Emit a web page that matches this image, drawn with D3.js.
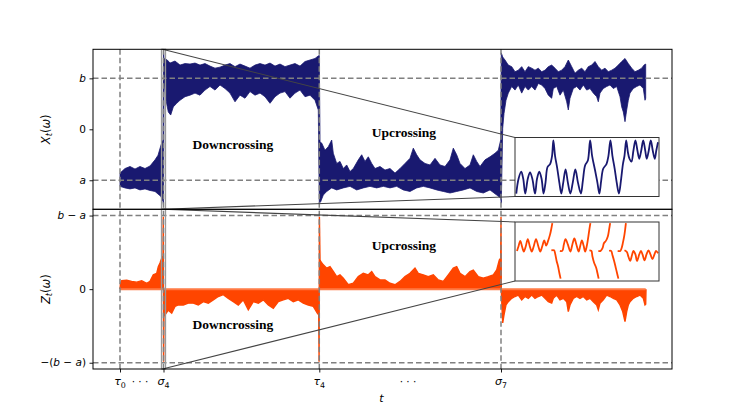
<!DOCTYPE html>
<html><head><meta charset="utf-8">
<script src="https://cdn.jsdelivr.net/npm/d3@7"></script>
<style>body{margin:0;background:#fff}</style>
</head><body>
<svg id="c" width="747" height="415" xmlns="http://www.w3.org/2000/svg"></svg>
<script>
// ---------------- data ----------------
const levelA = -1, levelB = 1;
const stopTimes = [0, 43.5, 199.3, 381];
const stopLabels = [[["τ","i"],["0","sub"]],[["σ","i"],["4","sub"]],[["τ","i"],["4","sub"]],[["σ","i"],["7","sub"]]];
const ellipsisTimes = [20, 288];
const tMax = 525.7;
const zoomWindow = [41.5, 45.5];

const topTickValues = [levelA, 0, levelB];
const topTickLabels = [[["a","i"]], [["0",""]], [["b","i"]]];
const botTickValues = [-(levelB - levelA), 0, levelB - levelA];
const botTickLabels = [[["−(",""],["b","i"],[" − ",""],["a","i"],[")",""]], [["0",""]], [["b","i"],[" − ",""],["a","i"]]];

// upper / lower envelope of the rapidly oscillating X_t
const xUpper = [[0,-0.86],[5,-0.77],[10,-0.73],[15,-0.78],[20,-0.73],[25,-0.77],[30,-0.72],[35,-0.60],[38,-0.51],[41,-0.31],[43,-0.21],
 [43.5,1.55],[44,1.39],[47.3,1.36],[50,1.30],[55,1.34],[60,1.26],[65,1.29],[70,1.28],[75,1.30],[80,1.26],[85,1.29],[90,1.24],[95,1.20],[100,1.22],
 [105,1.26],[110,1.29],[115,1.23],[120,1.28],[125,1.24],[130,1.20],[135,1.26],[140,1.29],[145,1.26],[150,1.30],[155,1.24],[160,1.28],[165,1.23],
 [170,1.26],[175,1.29],[180,1.24],[185,1.33],[190,1.36],[195,1.39],[198.3,1.44],[199.3,1.45],
 [200,-0.25],[201.7,-0.27],[205,-0.41],[208.3,-0.34],[211.7,-0.21],[213.3,-0.47],[216.7,-0.67],[220,-0.63],[223.3,-0.77],[226.7,-0.70],[230,-0.83],
 [233.3,-0.77],[238.3,-0.60],[241.7,-0.50],[245,-0.63],[248.3,-0.54],[251.7,-0.67],[255,-0.77],[260,-0.73],[265,-0.80],[270,-0.77],[275,-0.86],
 [280,-0.77],[285,-0.67],[290,-0.57],[293.3,-0.37],[296.7,-0.50],[300,-0.60],[305,-0.67],[310,-0.70],[315,-0.57],[320,-0.70],[325,-0.73],[330,-0.60],
 [333.3,-0.37],[336.7,-0.50],[340,-0.67],[345,-0.77],[350,-0.70],[353.3,-0.50],[356.7,-0.63],[360,-0.73],[365,-0.60],[370,-0.54],[375,-0.47],
 [378.3,-0.41],[380.7,-0.21],
 [381.3,1.50],[382.7,1.42],[385,1.36],[388.3,1.26],[391.7,1.23],[395,1.13],[398.3,1.16],[401.7,1.23],[405,1.13],[408.3,1.23],[411.7,1.20],[415,1.16],
 [418.3,1.20],[421.7,1.13],[425,1.16],[428.3,1.23],[431.7,1.26],[435,1.20],[438.3,1.13],[441.7,1.16],[445,1.23],[448.3,1.36],[451.7,1.23],[455,1.10],
 [458.3,1.16],[461.7,1.20],[465,1.13],[468.3,1.23],[471.7,1.26],[475,1.33],[478.3,1.23],[481.7,1.16],[485,1.20],[488.3,1.13],[491.7,1.16],[495,1.20],
 [498.3,1.26],[501.7,1.33],[505,1.39],[508.3,1.29],[511.7,1.20],[515,1.13],[518.3,1.16],[521.7,1.20],[524,1.26],[525.7,1.28]];
const xLower = [[0,-1.12],[5,-1.15],[10,-1.17],[15,-1.15],[20,-1.19],[25,-1.17],[30,-1.20],[35,-1.22],[38,-1.27],[41,-1.32],[43,-1.42],[43.5,-1.50],
 [44,0.97],[46,0.57],[48.3,0.34],[50.7,0.28],[53.3,0.44],[56.7,0.51],[60,0.57],[65,0.64],[70,0.67],[75,0.71],[80,0.67],[85,0.77],[90,0.84],[95,0.77],
 [100,0.87],[105,0.80],[110,0.71],[115,0.54],[120,0.67],[125,0.61],[130,0.74],[135,0.67],[140,0.71],[145,0.64],[150,0.51],[155,0.64],[160,0.71],
 [165,0.74],[170,0.61],[175,0.71],[180,0.77],[185,0.64],[190,0.67],[195,0.57],[198.3,0.38],
 [199.3,-1.45],[200.7,-1.42],[203.3,-1.29],[206.7,-1.22],[211.7,-1.15],[216.7,-1.19],[223.3,-1.15],[230,-1.12],[236.7,-1.19],[243.3,-1.15],[250,-1.12],
 [256.7,-1.15],[263.3,-1.12],[270,-1.15],[276.7,-1.12],[283.3,-1.19],[290,-1.22],[296.7,-1.15],[303.3,-1.12],[310,-1.15],[316.7,-1.19],[323.3,-1.22],
 [330,-1.25],[336.7,-1.22],[343.3,-1.19],[350,-1.15],[356.7,-1.22],[363.3,-1.25],[370,-1.19],[376.7,-1.29],[380.7,-1.35],[381.3,-1.45],
 [382.7,0.02],[384,0.31],[386,0.57],[388.3,0.71],[391.7,0.84],[395,0.77],[398.3,0.87],[401.7,0.71],[405,0.84],[408.3,0.77],[411.7,0.84],[415,0.77],
 [418.3,0.90],[421.7,0.87],[425,0.80],[428.3,0.67],[431.7,0.61],[433.3,0.80],[436.7,0.84],[440,0.67],[443.3,0.77],[446.7,0.54],[448.3,0.38],[450,0.61],
 [453.3,0.80],[456.7,0.84],[460,0.77],[463.3,0.87],[466.7,0.77],[470,0.80],[473.3,0.71],[476.7,0.64],[478.3,0.54],[480,0.71],[483.3,0.80],[486.7,0.84],
 [490,0.87],[493.3,0.80],[496.7,0.84],[500,0.64],[501.7,0.44],[503.3,0.34],[505,0.15],[506.7,0.38],[508.3,0.57],[510,0.71],[513.3,0.80],[516.7,0.84],
 [520,0.87],[523.3,0.80],[525,0.57],[525.7,0.61]];

// Z_t
const zSeries = [[0,0],[0.5,0.15],[1.7,0.23],[6.7,0.24],[11.7,0.21],[16.7,0.19],[21.7,0.23],[26.7,0.16],[30,0.21],[33.3,0.39],[36.7,0.43],[38.3,0.61],
 [40,0.71],[41.7,0.84],[43,0.90],[43.3,1.97],[43.6,-1.97],[44,-0.50],[45,-0.70],[48.3,-0.57],[51.7,-0.65],[55,-0.47],[58.3,-0.43],[63.3,-0.43],
 [68.3,-0.38],[73.3,-0.38],[78.3,-0.43],[83.3,-0.34],[88.3,-0.38],[93.3,-0.29],[98.3,-0.20],[103.3,-0.15],[108.3,-0.25],[113.3,-0.34],[118.3,-0.43],
 [123.3,-0.29],[128.3,-0.56],[133.3,-0.34],[138.3,-0.38],[143.3,-0.29],[148.3,-0.43],[153.3,-0.52],[158.3,-0.34],[163.3,-0.29],[168.3,-0.25],
 [173.3,-0.34],[178.3,-0.29],[183.3,-0.38],[188.3,-0.43],[193.3,-0.47],[197.3,-0.65],[198.7,-0.70],[199.1,-1.97],[199.4,1.97],[200,0.80],
 [200.7,0.75],[203.3,0.66],[206.7,0.57],[210,0.61],[213.3,0.48],[216.7,0.34],[220,0.39],[223.3,0.30],[228.3,0.12],[233.3,0.16],[238.3,0.34],
 [243.3,0.43],[248.3,0.39],[251.7,0.48],[255,0.34],[260,0.25],[265,0.25],[270,0.16],[275,0.12],[280,0.21],[285,0.34],[290,0.43],[295,0.57],
 [298.3,0.43],[303.3,0.39],[308.3,0.34],[313.3,0.39],[318.3,0.25],[323.3,0.21],[328.3,0.39],[333.3,0.57],[336.7,0.61],[340,0.43],[345,0.34],
 [350,0.48],[353.3,0.52],[358.3,0.34],[363.3,0.30],[368.3,0.34],[373.3,0.39],[376.7,0.52],[379.3,0.79],[380.7,0.84],[381,1.97],[381.3,0],
 [382,-0.50],[382.7,-0.92],[384,-0.70],[386,-0.43],[388.3,-0.34],[391.7,-0.25],[395,-0.20],[398.3,-0.16],[401.7,-0.29],[405,-0.20],[408.3,-0.25],
 [411.7,-0.16],[415,-0.25],[418.3,-0.20],[421.7,-0.16],[425,-0.25],[428.3,-0.34],[431.7,-0.38],[433.3,-0.25],[436.7,-0.16],[440,-0.29],[443.3,-0.25],
 [446.7,-0.34],[448.3,-0.61],[450,-0.43],[453.3,-0.25],[456.7,-0.20],[460,-0.25],[463.3,-0.20],[466.7,-0.29],[470,-0.25],[473.3,-0.34],[476.7,-0.43],
 [478.3,-0.56],[480,-0.38],[483.3,-0.29],[486.7,-0.16],[490,-0.20],[493.3,-0.25],[496.7,-0.29],[500,-0.43],[502.7,-0.61],[505,-0.88],[506.7,-0.61],
 [508.3,-0.43],[510,-0.34],[513.3,-0.25],[516.7,-0.20],[520,-0.16],[523.3,-0.25],[525,-0.43],[525.7,-0.41],[526,0]];

// zoomed views (inset time 0..100, inset value 0..1)
const zoomX = [[0.2,0.05],[1.8,0.30],[3.7,0.42],[5.1,0.30],[6.5,0.05],[8.3,0.30],[9.9,0.41],[11.5,0.30],[13.4,0.05],[14.8,0.30],[16.4,0.42],[18.0,0.30],
 [19.4,0.05],[20.8,0.24],[22.2,0.50],[24.0,0.55],[25.4,0.69],[26.3,0.95],[27.5,0.69],[29.1,0.47],[30.5,0.24],[31.9,0.05],[33.3,0.24],[34.9,0.46],
 [36.5,0.24],[38.3,0.05],[40.0,0.24],[41.8,0.46],[43.6,0.24],[45.7,0.05],[47.1,0.27],[48.7,0.53],[50.6,0.61],[52.2,0.95],[53.6,0.69],[55.7,0.44],
 [57.3,0.24],[58.7,0.05],[60.0,0.27],[61.4,0.47],[63.7,0.55],[65.1,0.69],[66.5,0.95],[67.9,0.69],[69.5,0.47],[70.9,0.24],[72.5,0.05],[73.9,0.27],
 [75.3,0.55],[76.4,0.69],[77.6,0.95],[78.8,0.75],[79.9,0.64],[81.3,0.59],[82.7,0.78],[84.1,0.95],[85.5,0.78],[86.8,0.64],[88.2,0.78],[89.6,0.95],
 [91.0,0.78],[92.1,0.64],[93.5,0.78],[94.9,0.95],[96.3,0.78],[97.7,0.64],[98.8,0.78],[100,0.92]];
const zoomZ = [
 [[0.7,0.51],[1.8,0.59],[3.0,0.68],[4.2,0.59],[5.5,0.50],[6.9,0.59],[8.3,0.71],[9.7,0.59],[11.1,0.50],[12.5,0.59],[14.1,0.71],[15.7,0.59],[17.1,0.50],
  [18.5,0.59],[19.9,0.69],[21.2,0.60],[22.6,0.68],[24.0,0.79],[24.9,0.89],[25.6,0.98]],
 [[24.9,0.52],[26.8,0.52],[27.7,0.45],[28.6,0.34],[29.6,0.25],[30.5,0.14],[31.4,0.04]],
 [[30.9,0.51],[32.6,0.51],[33.7,0.62],[34.9,0.71],[36.5,0.62],[38.3,0.50],[39.7,0.62],[41.1,0.72],[42.5,0.62],[44.1,0.50],[45.3,0.60],[46.4,0.69],
  [47.6,0.60],[48.7,0.50],[49.9,0.60],[51.0,0.76],[51.7,0.88],[52.4,0.98]],
 [[51.7,0.52],[53.1,0.51],[53.8,0.42],[55.0,0.31],[56.4,0.23],[57.3,0.14],[58.2,0.04]],
 [[58.0,0.51],[59.6,0.51],[61.0,0.56],[61.9,0.64],[63.3,0.68],[64.7,0.76],[65.6,0.88],[66.3,0.98]],
 [[65.6,0.51],[67.0,0.51],[67.9,0.44],[69.1,0.34],[70.2,0.23],[71.1,0.14],[72.1,0.04]],
 [[71.6,0.51],[73.4,0.51],[74.4,0.56],[75.3,0.65],[76.2,0.76],[76.9,0.88],[77.4,0.98]],
 [[76.4,0.52],[78.1,0.49],[79.2,0.41],[80.4,0.34],[81.8,0.45],[82.7,0.51],[84.1,0.45],[85.2,0.34],[86.8,0.45],[88.0,0.51],[89.1,0.45],[90.5,0.35],
  [91.9,0.45],[93.3,0.52],[94.7,0.45],[96.1,0.37],[97.5,0.45],[98.6,0.51],[100,0.47]]];

const crossingLabels = [
 {panel:"top", t:113, v:-0.30, text:"Downcrossing"},
 {panel:"top", t:284, v:-0.07, text:"Upcrossing"},
 {panel:"bot", t:284, v:1.18, text:"Upcrossing"},
 {panel:"bot", t:113, v:-0.97, text:"Downcrossing"}];

// ---------------- layout ----------------
const NAVY = "#191970", ORANGE = "#ff4500", GRID = "#808080";
const L = 93, R = 672, T1 = 49.3, B1 = 209.3, T2 = 209.3, B2 = 369;
const insetTop = {x0:515, x1:659, y0:137.5, y1:196.5};
const insetBot = {x0:515, x1:659, y0:222, y1:281};

const svg = d3.select("#c");
const x = d3.scaleLinear().domain([-27, 552]).range([L, R]);
const yTop = d3.scaleLinear().domain([-1.57, 1.57]).range([B1, T1]);
const yBot = d3.scaleLinear().domain([-2.17, 2.17]).range([B2, T2]);

const defs = svg.append("defs");
[["clipTop",L,T1,R-L,B1-T1],["clipBot",L,T2,R-L,B2-T2],
 ["clipInT",insetTop.x0,insetTop.y0,insetTop.x1-insetTop.x0,insetTop.y1-insetTop.y0],
 ["clipInB",insetBot.x0,insetBot.y0,insetBot.x1-insetBot.x0,insetBot.y1-insetBot.y0]].forEach(c=>{
  defs.append("clipPath").attr("id",c[0]).append("rect").attr("x",c[1]).attr("y",c[2]).attr("width",c[3]).attr("height",c[4]);
});

// X band
const gTop = svg.append("g").attr("clip-path","url(#clipTop)");
const band = xUpper.concat(xLower.slice().reverse());
gTop.append("path")
  .attr("d", d3.line().x(d=>x(d[0])).y(d=>yTop(d[1]))(band) + "Z")
  .attr("fill", NAVY).attr("stroke", NAVY).attr("stroke-width", 0.8).attr("stroke-linejoin","round");

// Z
const gBot = svg.append("g").attr("clip-path","url(#clipBot)");
gBot.append("path")
  .attr("d", d3.area().x(d=>x(d[0])).y0(yBot(0)).y1(d=>yBot(d[1]))(zSeries))
  .attr("fill", ORANGE);
gBot.append("path")
  .attr("d", d3.line().x(d=>x(d[0])).y(d=>yBot(d[1]))(zSeries))
  .attr("fill","none").attr("stroke", ORANGE).attr("stroke-width", 1.4);
gBot.append("line").attr("x1",x(0)).attr("x2",x(tMax)).attr("y1",yBot(0)).attr("y2",yBot(0))
  .attr("stroke","#ff7a45").attr("stroke-width",2);

// dashed reference lines
const dash = "5.5,3";
const gridG = svg.append("g").attr("stroke",GRID).attr("stroke-width",1.5).attr("stroke-dasharray",dash).attr("fill","none");
[levelA, levelB].forEach(v=>gridG.append("line").attr("x1",L).attr("x2",R).attr("y1",yTop(v)).attr("y2",yTop(v)));
botTickValues.filter(v=>v!==0).forEach(v=>gridG.append("line").attr("x1",L).attr("x2",R).attr("y1",yBot(v)).attr("y2",yBot(v)));
stopTimes.forEach(t=>gridG.append("line").attr("x1",x(t)).attr("x2",x(t)).attr("y1",T1).attr("y2",B2));

// zoom marks + connectors
[[yTop, T1, B1, insetTop],[yBot, T2, B2, insetBot]].forEach(([ys, t0, b0, ins])=>{
  svg.append("rect").attr("x",x(zoomWindow[0])).attr("y",t0).attr("width",x(zoomWindow[1])-x(zoomWindow[0])).attr("height",b0-t0)
    .attr("fill","none").attr("stroke","#999").attr("stroke-width",1.3);
  svg.append("line").attr("x1",x(zoomWindow[0])+1).attr("y1",t0).attr("x2",ins.x0).attr("y2",ins.y0).attr("stroke","#444").attr("stroke-width",1.1);
  svg.append("line").attr("x1",x(zoomWindow[0])+1).attr("y1",b0).attr("x2",ins.x0).attr("y2",ins.y1).attr("stroke","#444").attr("stroke-width",1.1);
});

// insets
function drawInset(ins, clip, series, color){
  svg.append("rect").attr("x",ins.x0).attr("y",ins.y0).attr("width",ins.x1-ins.x0).attr("height",ins.y1-ins.y0).attr("fill","#fff");
  const ix = d3.scaleLinear().domain([0,100]).range([ins.x0+1, ins.x1-1]);
  const iy = d3.scaleLinear().domain([0,1]).range([ins.y1, ins.y0]);
  const g = svg.append("g").attr("clip-path",`url(#${clip})`);
  series.forEach(s=>g.append("path").attr("d", d3.line().curve(d3.curveCatmullRom.alpha(0.5)).x(d=>ix(d[0])).y(d=>iy(d[1]))(s))
    .attr("fill","none").attr("stroke",color).attr("stroke-width",1.8).attr("stroke-linejoin","round"));
  svg.append("rect").attr("x",ins.x0).attr("y",ins.y0).attr("width",ins.x1-ins.x0).attr("height",ins.y1-ins.y0)
    .attr("fill","none").attr("stroke","#333").attr("stroke-width",1);
}
drawInset(insetTop, "clipInT", [zoomX], NAVY);
drawInset(insetBot, "clipInB", zoomZ, ORANGE);

// panel frames
[[T1,B1],[T2,B2]].forEach(([t,b])=>svg.append("rect").attr("x",L).attr("y",t).attr("width",R-L).attr("height",b-t)
  .attr("fill","none").attr("stroke","#000").attr("stroke-width",1));

// text helper
function addParts(txt, parts, size){
  let inSub = false;
  parts.forEach(p=>{
    const ts = txt.append("tspan").text(p[0]);
    const sub = p[1].includes("sub");
    if (p[1].includes("i")) ts.attr("font-style","italic");
    if (sub) { ts.attr("font-size", size*0.72); if(!inSub) ts.attr("dy", size*0.25); }
    else if (inSub) ts.attr("dy", -size*0.25);
    inSub = sub;
  });
}
const FONT = "DejaVu Sans";

// axes
function styleAxis(g){ g.select(".domain").remove(); g.selectAll(".tick line").attr("stroke","#000").attr("stroke-width",0.9); g.selectAll(".tick text").remove(); }
const axT = svg.append("g").attr("transform",`translate(${L},0)`).call(d3.axisLeft(yTop).tickValues(topTickValues).tickSize(3.5).tickSizeOuter(0));
styleAxis(axT);
const axB = svg.append("g").attr("transform",`translate(${L},0)`).call(d3.axisLeft(yBot).tickValues(botTickValues).tickSize(3.5).tickSizeOuter(0));
styleAxis(axB);
const axX = svg.append("g").attr("transform",`translate(0,${B2})`).call(d3.axisBottom(x).tickValues(stopTimes).tickSize(3.5).tickSizeOuter(0));
styleAxis(axX);

topTickValues.forEach((v,i)=>{
  const t = svg.append("text").attr("x",L-7).attr("y",yTop(v)+3.7).attr("text-anchor","end").attr("font-family",FONT).attr("font-size",10.5);
  addParts(t, topTickLabels[i], 10.5);
});
botTickValues.forEach((v,i)=>{
  const t = svg.append("text").attr("x",L-7).attr("y",yBot(v)+3.7).attr("text-anchor","end").attr("font-family",FONT).attr("font-size",10.5);
  addParts(t, botTickLabels[i], 10.5);
});
stopTimes.forEach((tv,i)=>{
  const t = svg.append("text").attr("x",x(tv)).attr("y",385).attr("text-anchor","middle").attr("font-family",FONT).attr("font-size",11);
  addParts(t, stopLabels[i], 11);
});
ellipsisTimes.forEach(tv=>{
  svg.append("text").attr("x",x(tv)).attr("y",385).attr("text-anchor","middle").attr("font-family",FONT).attr("font-size",10.5).text("· · ·");
});
svg.append("text").attr("x",(L+R)/2 - 1).attr("y",401.5).attr("text-anchor","middle").attr("font-family",FONT).attr("font-size",11)
  .attr("font-style","italic").text("t");

[[ (T1+B1)/2, [["X","i"],["t","isub"],["(",""],["ω","i"],[")",""]] ],
 [ (T2+B2)/2, [["Z","i"],["t","isub"],["(",""],["ω","i"],[")",""]] ]].forEach(([cy, parts])=>{
  const t = svg.append("text").attr("transform",`translate(49.5,${cy}) rotate(-90)`).attr("text-anchor","middle")
    .attr("font-family",FONT).attr("font-size",11.5);
  addParts(t, parts, 11.5);
});

crossingLabels.forEach(c=>{
  const ys = c.panel==="top" ? yTop : yBot;
  svg.append("text").attr("x",x(c.t)).attr("y",ys(c.v)+4.5).attr("text-anchor","middle")
    .attr("font-family","Liberation Serif").attr("font-weight","bold").attr("font-size",13.5).text(c.text);
});
</script>
</body></html>
